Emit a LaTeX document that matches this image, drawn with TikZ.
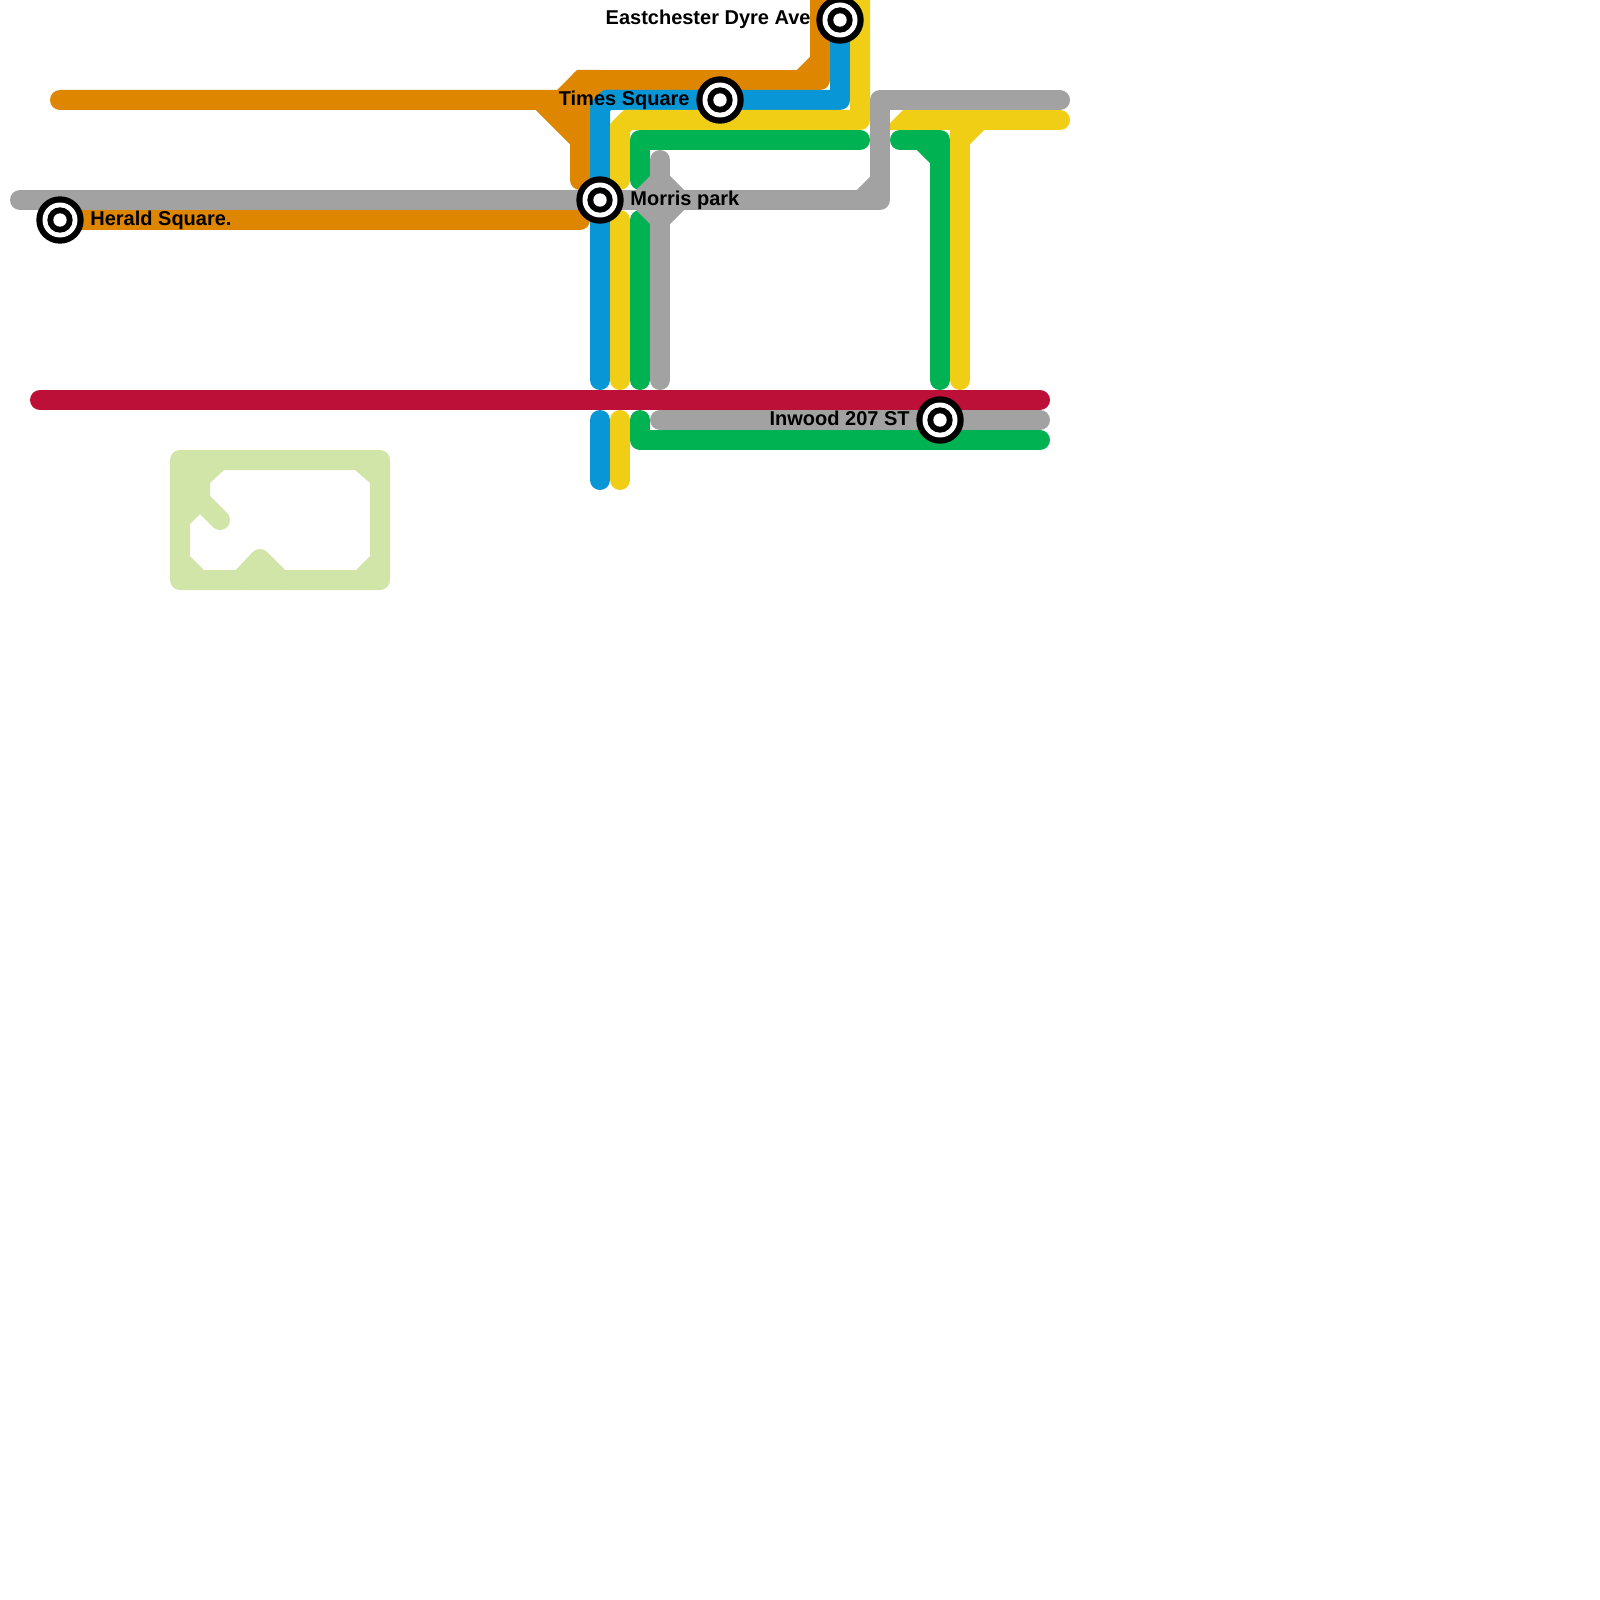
\documentclass[tikz,border=0pt]{standalone}
\usepackage{fontspec}
\setmainfont{Liberation Sans}
\definecolor{mOrange}{HTML}{DF8600}
\definecolor{mBlue}{HTML}{0896D7}
\definecolor{mYellow}{HTML}{F0CE15}
\definecolor{mGreen}{HTML}{00B251}
\definecolor{mGrey}{HTML}{A2A2A2}
\definecolor{mRed}{HTML}{BD1038}
\definecolor{mPale}{HTML}{D1E5A8}
\tikzset{
  railline/.style={line width=10pt,line cap=round,line join=round,draw=#1},
  stndisc/.style={circle,fill=#1,draw=none,inner sep=0pt,outer sep=0pt},
  stnlabel/.style={font=\bfseries\fontsize{10pt}{12pt}\selectfont,text=black,inner sep=0pt}
}
\newcommand{\stationmark}[2]{%
  \node[stndisc=black,minimum size=23.7pt] (#1) at (#2) {};
  \node[stndisc=white,minimum size=17.5pt] (#1-b) at (#2) {};
  \node[stndisc=black,minimum size=12.7pt] (#1-c) at (#2) {};
  \node[stndisc=white,minimum size=6.7pt] (#1-d) at (#2) {};
}
\begin{document}
\begin{tikzpicture}[x=0.5pt,y=-0.5pt]
\useasboundingbox (0,0) rectangle (1600,1600);
\clip (0,0) rectangle (1600,1600);
\fill[white] (0,0) rectangle (1600,1600);
% station positions
\coordinate (pEast) at (840,20);
\coordinate (pTimes) at (720,100);
\coordinate (pMorris) at (600,200);
\coordinate (pHerald) at (60,220);
\coordinate (pInwood) at (940,420);
% pale frame
\fill[mPale,even odd rule]
  [rounded corners=5pt] (170,450) -- (390,450) -- (390,590) -- (170,590) -- cycle
  [sharp corners] (224,470) -- (355,470) -- (370,483) -- (370,556) -- (356,570) -- (204,570)
  -- (190,556) -- (190,524) -- (210,504) -- (210,483) -- cycle;
\draw[railline=mPale] (195,495) -- (220,520);
\draw[railline=mPale] (240,580) -- (260,559) -- (281,580);
% orange
\draw[railline=mOrange] (60,100) -- (540,100) -- (580,140) -- (580,180);
\draw[railline=mOrange] (820,-20) -- (820,80) -- (581,80);
\draw[railline=mOrange] (820,61) -- (801,80);
\draw[railline=mOrange] (pHerald) -- (580,220);
\fill[mOrange] (540,90) -- (557,90) -- (577,70) -- (600,70) -- (610,90) -- (610,110) -- (590,110) -- (590,170)
  -- (570,170) -- (570,144) -- (536,110) -- (530,110) -- cycle;
% blue
\draw[railline=mBlue] (pEast) -- (840,100) -- (607,100) -- (600,107) -- (600,380);
\fill[mBlue] (590,104) -- (604,90) -- (620,90) -- (620,110) -- (590,110) -- cycle;
\draw[railline=mBlue] (600,420) -- (600,480);
% yellow
\draw[railline=mYellow] (860,-20) -- (860,120) -- (628,120) -- (620,128) -- (620,180);
\fill[mYellow] (610,124) -- (624,110) -- (640,110) -- (640,130) -- (610,130) -- cycle;
\draw[railline=mYellow] (620,220) -- (620,380);
\draw[railline=mYellow] (620,420) -- (620,480);
\draw[railline=mYellow] (1060,120) -- (920,120);
\fill[mYellow] (890,123) -- (903,110) -- (925,110) -- (925,130) -- (890,130) -- cycle;
\draw[railline=mYellow] (960,380) -- (960,120);
\draw[railline=mYellow] (960,140) -- (980,120);
% green
\draw[railline=mGreen] (860,140) -- (640,140) -- (640,180);
\draw[railline=mGreen] (640,220) -- (640,380);
\draw[railline=mGreen] (900,140) -- (940,140) -- (940,380);
\draw[railline=mGreen] (921,140) -- (940,159);
\draw[railline=mGreen] (640,420) -- (640,440) -- (1040,440);
% grey
\draw[railline=mGrey] (1060,100) -- (880,100) -- (880,200) -- (20,200);
\draw[railline=mGrey] (880,181) -- (861,200);
\draw[railline=mGrey] (660,160) -- (660,380);
\fill[mGrey] (650,176) -- (670,176) -- (684,190) -- (684,210) -- (670,224) -- (650,224) -- (636,210) -- (636,190) -- cycle;
\draw[railline=mGrey] (660,420) -- (1040,420);
% red
\draw[railline=mRed] (40,400) -- (1040,400);
% stations
\stationmark{east}{pEast}
\stationmark{times}{pTimes}
\stationmark{morris}{pMorris}
\stationmark{herald}{pHerald}
\stationmark{inwood}{pInwood}
% labels
\node[stnlabel,anchor=base east] (lEast) at (811,25) {Eastchester Dyre Ave};
\node[stnlabel,anchor=base east] (lTimes) at (690,105) {Times Square};
\node[stnlabel,anchor=base west] (lMorris) at (630,205) {Morris park};
\node[stnlabel,anchor=base west] (lHerald) at (90,225) {Herald Square.};
\node[stnlabel,anchor=base east] (lInwood) at (910,425) {Inwood 207 ST};
\end{tikzpicture}
\end{document}
